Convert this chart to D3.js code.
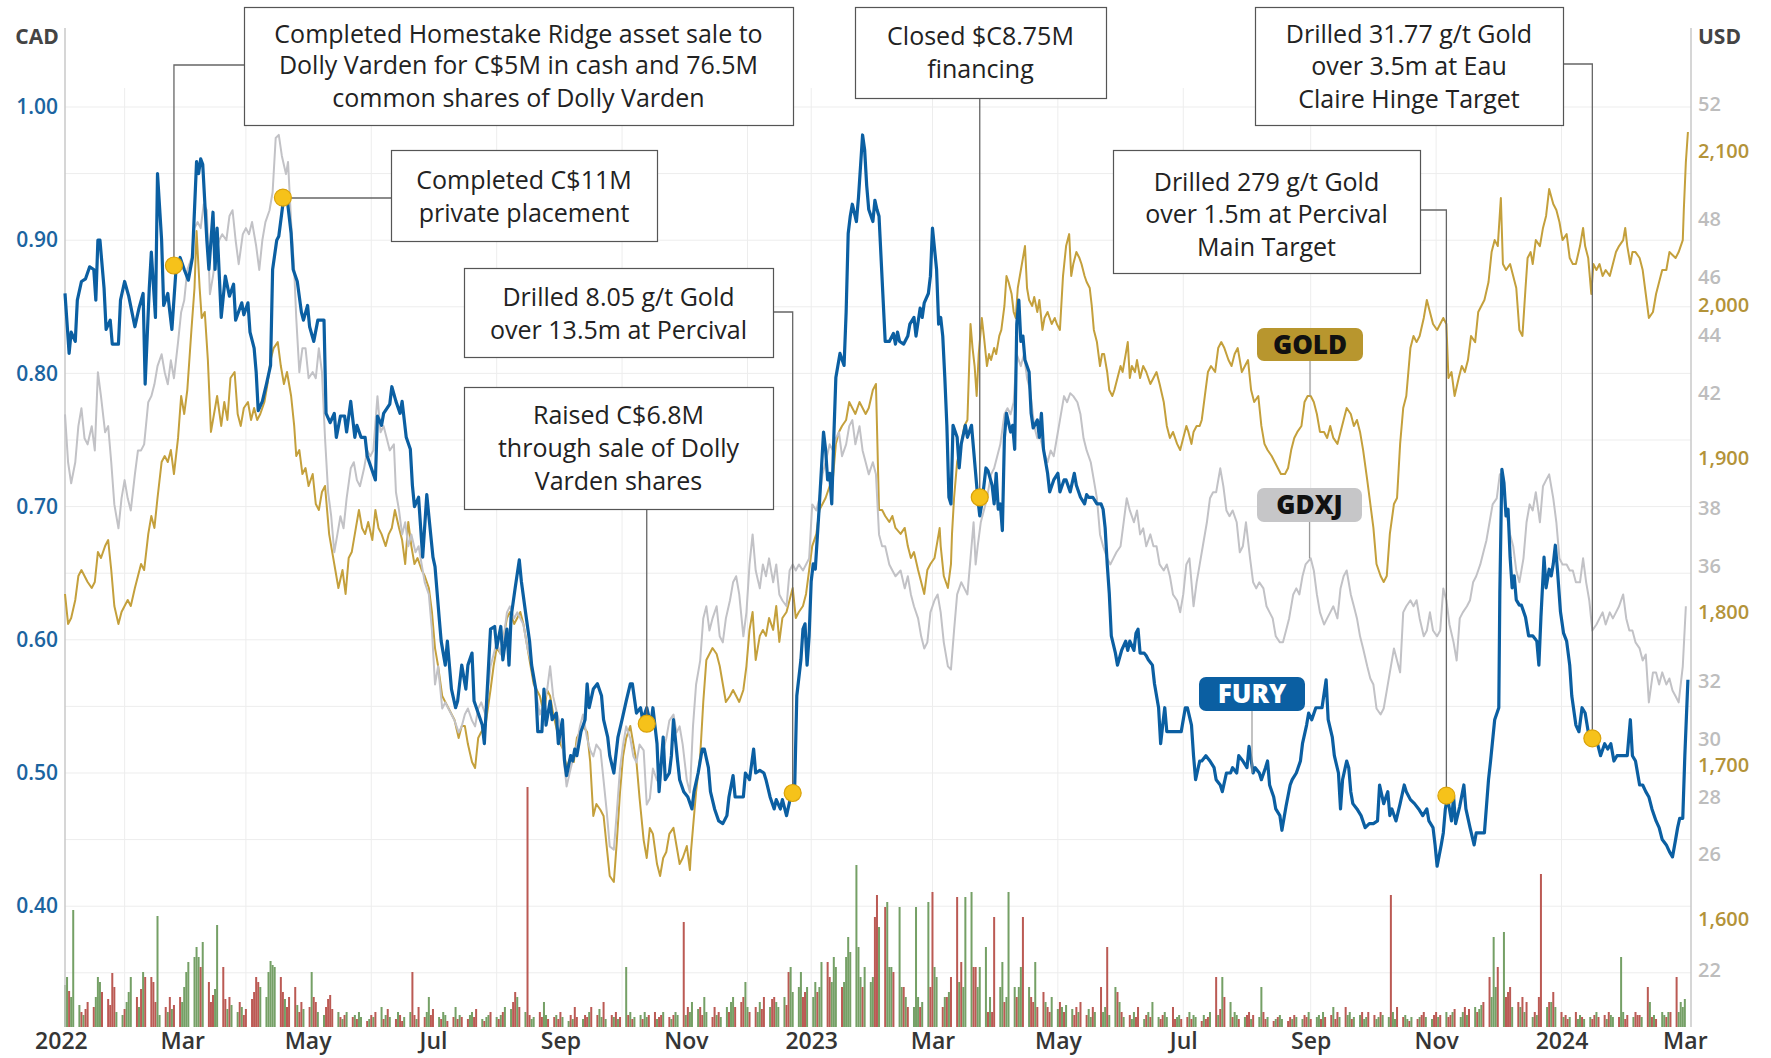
<!DOCTYPE html>
<html><head><meta charset="utf-8">
<script src="https://cdn.jsdelivr.net/npm/d3@7"></script>
<style>
html,body{margin:0;padding:0;background:#fff;}
svg{display:block;font-family:"Open Sans",sans-serif;}
</style></head><body>
<svg id="chart" width="1771" height="1058"></svg>
<script>
// ---------------- DATA (day offset from 2022-01-01, value) ----------------
const fury = [[2,.860],[4,.815],[5,.831],[7,.824],[8,.855],[10,.869],[12,.871],[14,.880],[16,.878],[17,.855],[18,.900],[19,.900],[21,.864],[22,.833],[24,.840],[25,.822],[28,.822],[29,.855],[31,.869],[33,.858],[36,.835],[38,.849],[40,.860],[41,.792],[43,.864],[44,.891],[46,.842],[47,.950],[49,.900],[50,.851],[52,.860],[53,.846],[54,.833],[56,.878],[58,.887],[60,.878],[62,.870],[64,.887],[66,.959],[67,.950],[68,.961],[69,.957],[71,.900],[72,.878],[74,.921],[75,.878],[76,.909],[78,.842],[80,.873],[82,.858],[84,.867],[85,.840],[88,.853],[89,.844],[91,.853],[92,.831],[94,.819],[95,.801],[96,.772],[98,.779],[100,.792],[102,.806],[103,.878],[105,.900],[106,.903],[108,.927],[110,.932],[112,.905],[113,.878],[115,.869],[117,.846],[118,.840],[120,.851],[121,.835],[123,.824],[125,.840],[128,.840],[129,.770],[131,.763],[133,.770],[134,.752],[136,.768],[138,.768],[139,.756],[141,.779],[143,.752],[144,.761],[146,.752],[148,.752],[149,.738],[151,.729],[153,.720],[154,.768],[156,.761],[157,.770],[160,.777],[161,.790],[163,.779],[165,.770],[166,.779],[168,.752],[170,.743],[171,.716],[172,.700],[174,.707],[176,.662],[178,.709],[179,.693],[181,.662],[182,.655],[184,.617],[185,.599],[187,.581],[188,.599],[190,.563],[192,.549],[193,.554],[195,.581],[197,.563],[198,.581],[200,.590],[201,.554],[203,.545],[205,.536],[206,.522],
[209,.608],[211,.610],[212,.594],[214,.610],[215,.585],[217,.608],[218,.581],[219,.617],[221,.639],[223,.660],[224,.644],[226,.621],[228,.599],[229,.581],[231,.563],[232,.531],[234,.531],[235,.563],[236,.536],[238,.554],[239,.540],[241,.545],[242,.522],[244,.540],[245,.509],[246,.498],[248,.513],[249,.509],[250,.518],[251,.513],[253,.531],[255,.540],[256,.567],[257,.549],[259,.563],[261,.567],[263,.558],[264,.540],[266,.527],[267,.513],[269,.500],[271,.527],[273,.540],[275,.554],[277,.567],[278,.567],[280,.545],[282,.549],[283,.540],[285,.549],[287,.536],[288,.549],[290,.522],[291,.486],[293,.527],[294,.495],[296,.500],[297,.513],[298,.540],[300,.509],[301,.495],[303,.486],[305,.482],[307,.473],[308,.486],[310,.500],[312,.518],[313,.518],[315,.504],[316,.486],[318,.473],[320,.464],[322,.462],[324,.468],[325,.482],[327,.498],[328,.482],[330,.482],[332,.482],[333,.500],[335,.495],[337,.518],[338,.500],[340,.502],[342,.500],[343,.495],[345,.482],[347,.473],[348,.480],[350,.473],[351,.480],[353,.468],[355,.482],[357,.491],[358,.558],[360,.585],[361,.608],[362,.612],[363,.581],[364,.603],[365,.644],[366,.657],[367,.653],[369,.702],[371,.756],[372,.743],[373,.720],[374,.725],[375,.702],[376,.752],[377,.797],[379,.815],[381,.806],[382,.846],[383,.905],[384,.918],[385,.927],[387,.914],[388,.932],[390,.979],[391,.968],[392,.941],[393,.923],[395,.914],[396,.930],[397,.923],[398,.918],[400,.855],[401,.824],[403,.824],[405,.830],
[406,.822],[407,.831],[408,.824],[410,.822],[412,.828],[413,.837],[415,.842],[416,.828],[418,.849],[419,.842],[420,.853],[422,.860],[423,.873],[424,.909],[426,.878],[427,.837],[428,.842],[429,.828],[430,.797],[431,.761],[432,.707],[433,.702],[434,.761],[436,.752],[437,.729],[438,.747],[440,.761],[441,.752],[443,.761],[444,.743],[445,.725],[446,.707],[447,.693],[448,.702],[450,.729],[451,.727],[453,.716],[454,.702],[455,.725],[456,.698],[457,.702],[458,.682],[459,.752],[460,.770],[462,.756],[463,.761],[464,.743],[465,.837],[466,.855],[467,.824],[468,.828],[469,.810],[471,.801],[472,.770],[473,.759],[475,.765],[476,.752],[477,.770],[478,.743],[480,.725],[481,.711],[483,.720],[485,.725],[486,.711],[488,.720],[489,.720],[491,.711],[493,.725],[494,.716],[496,.707],[498,.702],[499,.709],[500,.707],[502,.707],[504,.702],[506,.702],[507,.698],[508,.684],[509,.657],[510,.635],[511,.603],[513,.590],[514,.581],[516,.592],[518,.599],[519,.592],[520,.599],[522,.592],[523,.605],[524,.608],[525,.590],[527,.590],[528,.588],[529,.585],[531,.581],[532,.567],[534,.549],[535,.522],[536,.536],[537,.549],[538,.531],[540,.531],[543,.531],[545,.531],[547,.549],[548,.549],[550,.536],[551,.513],[552,.495],[554,.509],[555,.509],[557,.513],[559,.509],[561,.504],[562,.495],[564,.491],[565,.486],[567,.500],[569,.500],[570,.504],[572,.500],[573,.513],[575,.509],[577,.504],[578,.520],[580,.500],[581,.504],[583,.500],[584,.495],[586,.504],[587,.509],[588,.491],[590,.482],[591,.473],[593,.468],[594,.457],[596,.475],[598,.491],[599,.495],[601,.500],[603,.509],[604,.522],[606,.536],[607,.545],
[608.5,.540],[610.5,.549],[611.5,.549],[613.5,.549],[615.5,.570],[616.5,.540],[618.5,.527],[619.5,.513],[621.5,.500],[622.5,.473],[623.5,.495],[625.5,.509],[626.5,.504],[627.5,.486],[628.5,.477],[630.5,.473],[632.5,.468],[634.5,.459],[636.5,.462],[638.5,.462],[640.5,.464],[641.5,.491],[643.5,.477],[645.5,.486],[646.5,.468],[647.5,.473],[649.5,.464],[651.5,.477],[653.5,.491],[654.5,.486],[656.5,.480],[658.5,.477],[660.5,.473],[662.5,.468],[664.5,.473],[665.5,.464],[667.5,.459],[668.5,.446],[669.5,.430],[671.5,.446],[672.5,.455],[673.5,.473],[674.5,.482],[676.5,.464],[677.5,.482],[678.5,.462],[680.5,.475],[682.5,.491],[683.5,.473],[685.5,.459],[687.5,.446],[688.5,.455],[690.5,.455],[692.5,.455],[694.5,.495],[695.5,.509],[697.5,.540],[699.5,.549],[700,.635],[701,.728],[702,.718],[703,.693],[704,.698],[705,.662],[706,.639],[707,.648],[708,.630],[709.5,.626],[710.5,.626],[712.5,.617],[714,.603],[716,.603],[718,.599],[719,.581],[720,.617],[721.5,.662],[722.5,.639],[724,.653],[725,.648],[726,.657],[727,.671],[728,.653],[729.5,.621],[731,.605],[732.5,.599],[734,.581],[735,.558],[737,.536],[738.5,.531],[740,.549],[741.5,.545],[743,.531],[744.5,.529],[746,.527],[747.5,.522],[749,.513],[751,.522],[752.5,.518],[754,.522],[755.5,.509],[757,.513],[760.5,.513],[762,.513],[763.5,.540],[764.5,.513],[766,.509],[768,.491],[769.5,.491],[771,.486],[772.5,.482],[774,.473],[776,.464],[777.5,.459],[779,.450],[781,.446],[782.5,.441],[784,.437],[785.5,.450],[786.5,.459],[787.5,.466],[789,.466],[790,.513],[791.5,.570]];

const gdxj = [[2,41.25],[3.5,39.59],[5,38.86],[7,39.59],[8.5,40.84],[10,41.46],[11.5,40.42],[13,40.21],[15,40.84],[16.5,40.0],[18,42.71],[19.5,41.88],[21.5,40.63],[23,40.84],[24.5,39.59],[26,38.13],[28,37.30],[29.5,38.34],[31,38.97],[32.5,38.34],[34,37.92],[36,39.17],[37.5,40.0],[39,40.0],[40.5,40.21],[42.5,41.67],[44,41.88],[45.5,42.29],[47,42.92],[49,43.33],[50.5,42.71],[52,42.29],[53.5,43.12],[55,42.50],[57,43.75],[58.5,44.79],[60,45.20],[61.5,46.25],[63.5,46.66],[65,47.70],[66.5,47.91],[68,47.70],[69.5,48.53],[71,48.32],[72.5,45.41],[74,46.04],[75.5,46.87],[77,47.28],[78.5,47.49],[80.5,47.28],[82,48.12],[83.5,48.32],[85,47.28],[86.5,46.45],[88.5,47.49],[90,47.70],[91.5,47.49],[93,47.91],[95,47.08],[96.5,46.25],[98,47.28],[99.5,47.91],[101.5,48.32],[103,48.95],[104.5,50.82],[106,50.93],[107.5,50.20],[109.5,49.57],[110.5,49.99],[112,47.91],[113.5,46.25],[114.5,44.58],[116,42.71],[117.5,43.54],[119,43.54],[120.5,42.50],[122.5,42.71],[124,42.50],[125.5,43.54],[127,42.71],[128.5,40.42],[130,38.55],[131.5,37.72],[133,36.47],[134.5,37.09],[136,37.72],[137.5,37.30],[139,38.34],[141,39.38],[142.5,39.59],[144,38.97],[145.5,38.76],[147.5,39.38],[149,40.0],[150.5,39.80],[152,40.0],[154,41.88],[155.5,40.63],[157,40.84],[158.5,40.42],[160,40.0],[162,40.21],[163,38.55],[164.5,37.92],[166,37.09],[167.5,37.51],[169,36.68],[170.5,37.09],[172.5,36.47],[174,36.68],[175.5,36.05],[177,35.43],[179,35.01],[180.5,33.76],[182,31.89],[183.5,32.52],[185.5,31.06],[187,31.27],[188.5,31.06],[190,30.85],[191.5,30.64],[193.5,30.23],[195,30.44],[196.5,30.85],[198,31.06],[200,30.64],[201.5,30.44],[203,31.06],[204.5,31.27],[206.5,30.85],
[209,32.52],[210.5,32.93],[212,33.35],[214,32.93],[215.5,33.56],[217,34.39],[218.5,34.60],[220.5,34.18],[222,34.39],[223.5,34.18],[225,33.97],[227,33.14],[228.5,32.72],[230,32.10],[231.5,31.47],[233,30.85],[235,31.27],[236.5,31.68],[238,32.52],[239.5,31.47],[241.5,30.85],[243,30.44],[244.5,29.40],[246,28.36],[248,28.98],[249.5,29.40],[251,29.81],[252.5,30.44],[254,30.85],[256,30.02],[257.5,29.61],[259,29.40],[260.5,29.81],[262.5,29.61],[264,28.57],[265.5,27.52],[267,26.28],[269,26.17],[270.5,27.52],[272,28.98],[273.5,29.81],[275,30.44],[277,30.02],[278.5,29.40],[280,29.19],[281.5,29.81],[283.5,29.61],[285,27.73],[286.5,27.94],[288,28.98],[290,28.57],[291.5,28.98],[293,29.61],[294.5,30.02],[296,30.64],[298,30.85],[299.5,30.23],[301,30.44],[302.5,29.81],[304.5,28.57],[306,28.15],[307.5,30.44],[309,31.89],[311,32.72],[312.5,34.18],[314,34.60],[315.5,33.76],[317,34.18],[319,34.60],[320.5,33.56],[322,33.35],[323.5,34.18],[325.5,34.81],[327,35.43],[328.5,35.64],[330,35.01],[332,33.56],[333.5,34.39],[335,36.05],[336.5,37.09],[338,35.84],[340,35.22],[341.5,36.05],[343,35.64],[344.5,36.26],[346.5,35.43],[348,36.05],[349.5,35.01],[351,34.80],[353,34.60],[354.5,35.84],[356,36.05],[357.5,35.84],[359,36.05],[361,35.84],[362.5,36.05],[364,36.26],[365.5,38.13],[367.5,37.92],[369,38.34],[370.5,39.17],[372,39.59],[374,40.21],[375.5,40.0],[377,40.42],[378.5,40.63],[380,39.80],[382,40.21],[383.5,40.84],[385,41.05],[386.5,40.21],[388.5,40.84],[390,40.0],[391.5,39.59],[393,39.17],[395,39.59],[396.5,39.17],[398,37.09],[399.5,36.68],[401,36.68],[403,36.05],[404.5,35.84],[406,35.64],
[408.5,35.84],[410.5,35.22],[412,35.64],[413.5,35.01],[415,34.60],[417,34.18],[418.5,33.56],[420,33.14],[421.5,33.35],[423,34.39],[425,34.81],[426.5,35.01],[428,34.39],[429.5,33.35],[431.5,32.52],[433,32.41],[434.5,33.76],[436,35.01],[438,35.43],[439.5,35.22],[441,35.01],[442.5,36.26],[444,37.51],[445,36.05],[446,36.68],[447.5,37.51],[449,37.92],[450.5,38.34],[452.5,39.17],[454,39.38],[455.5,39.80],[457,40.21],[459,41.25],[460.5,41.46],[462,41.25],[463.5,41.67],[465,43.33],[467,42.92],[468.5,43.33],[470,42.50],[471.5,42.08],[473.5,40.84],[475,40.42],[476.5,40.42],[478,40.0],[480,39.59],[481.5,40.0],[483,39.80],[484.5,40.42],[486,41.05],[488,41.88],[489.5,41.67],[491,41.98],[492.5,41.88],[494.5,41.67],[496,41.25],[497.5,40.42],[499,40.0],[501,39.59],[502.5,38.97],[504,38.34],[505.5,37.09],[507,36.68],[509,36.26],[510.5,36.05],[512,36.26],[513.5,36.47],[515.5,36.68],[517,37.51],[518.5,38.34],[520,37.92],[522,37.51],[523.5,37.92],[525,37.09],[526.5,37.30],[528,36.68],[530,37.09],[531.5,36.68],[533,36.68],[534.5,36.05],[536.5,35.84],[538,36.05],[539.5,35.64],[541,35.01],[543,34.80],[544.5,34.39],[546,35.01],[547.5,36.05],[549,36.26],[551,34.60],[552.5,35.43],[554,36.05],[555.5,36.68],[557.5,37.51],[559,38.34],[560.5,38.55],[562,38.55],[564,39.38],[565.5,38.76],[567,37.92],[568.5,37.72],[570,37.92],[572,37.51],[573.5,36.47],[575,36.68],[576.5,37.51],[578.5,36.26],[580,35.43],[581.5,35.22],[583,35.43],[585,35.22],[586.5,34.60],[588,34.39],[589.5,34.18],[591,33.56],[593,33.35],[594.5,33.35],[596,33.76],[597.5,34.18],[599.5,35.01],[601,35.22],[602.5,35.01],[604,35.64],[605.5,36.05],
[608,36.26],[609.5,35.84],[611,35.01],[612.5,34.39],[614.5,33.97],[616,34.18],[617.5,34.39],[619,34.60],[621,34.18],[622.5,35.22],[624,35.64],[625.5,35.84],[627.5,35.01],[629,34.60],[630.5,34.18],[632,33.56],[633.5,33.14],[635.5,32.52],[637,32.10],[638.5,31.89],[640,31.06],[642,30.85],[643.5,31.06],[645,31.68],[646.5,32.31],[648.5,33.14],[650,32.72],[651.5,32.31],[653,34.39],[654.5,34.60],[656.5,34.81],[658,34.60],[659.5,34.81],[661,34.18],[663,33.56],[664.5,33.76],[666,34.39],[667.5,33.76],[669.5,33.56],[671,33.76],[672.5,35.22],[674,34.81],[675.5,33.97],[677.5,33.35],[679,32.72],[680.5,34.18],[682,34.39],[684,34.60],[685.5,34.81],[687,35.43],[688.5,35.64],[690.5,36.05],[692,36.47],[693.5,36.89],[695,37.51],[696.5,38.13],[698.5,38.34],[700,39.17],[701.5,39.17],[703,37.92],[705,37.09],[706.5,36.68],[708,35.84],[709.5,35.43],[711.5,36.26],[713,37.51],[714.5,38.13],[716,37.92],[717.5,38.55],[719.5,37.51],[721,38.76],[722.5,38.97],[724,39.17],[726,38.34],[727.5,37.51],[729,36.26],[730.5,36.05],[732.5,36.05],[734,35.84],[735.5,35.84],[737,35.43],[739,35.43],[740.5,36.26],[742,35.43],[743.5,34.81],[745,33.76],[747,33.97],[748.5,34.18],[750,34.39],[751.5,33.97],[753.5,34.39],[755,34.18],[756.5,34.39],[758,34.60],[760,35.01],[761.5,34.18],[763,33.76],[764.5,33.76],[766,33.35],[768,33.14],[769.5,32.72],[771,32.93],[772.5,31.27],[774.5,32.31],[776,32.31],[777.5,31.89],[779,32.31],[781,31.89],[782.5,32.10],[784,31.68],[785.5,31.48],[787,31.27],[789,32.52],[790.5,34.60]];

const gold = [[2,1811.6],[3.5,1792.1],[5,1796.0],[7,1807.7],[8.5,1823.3],[10,1827.2],[11.5,1823.3],[13,1819.4],[15,1815.5],[16.5,1819.4],[18,1838.9],[19.5,1835.0],[21.5,1842.8],[23,1846.7],[24.5,1827.2],[26,1803.8],[28,1792.1],[29.5,1799.9],[31,1803.8],[32.5,1807.7],[34,1803.8],[36,1815.5],[37.5,1823.3],[39,1831.1],[40.5,1827.2],[42.5,1850.6],[44,1862.4],[45.5,1854.6],[47,1874.1],[49,1897.5],[50.5,1901.4],[52,1897.5],[53.5,1905.3],[55,1889.7],[57,1913.2],[58.5,1940.5],[60,1928.8],[61.5,1944.4],[63.5,1983.5],[65,2010.8],[66,2047.9],[67.5,2010.8],[68.5,1991.3],[70,1995.2],[71.5,1963.9],[73,1917.1],[74.5,1928.8],[76,1940.5],[78,1921.0],[79.5,1936.6],[81,1924.9],[82.5,1952.2],[84.5,1956.1],[86,1928.8],[87.5,1921.0],[89,1932.7],[91,1936.6],[92.5,1924.9],[94,1932.7],[95.5,1924.9],[97,1928.8],[99,1936.6],[100.5,1948.3],[102,1963.9],[103.5,1971.7],[105.5,1975.6],[107,1960.0],[108.5,1948.3],[110,1956.1],[112,1940.5],[113.5,1921.0],[114.5,1901.4],[116,1905.3],[117.5,1889.7],[119,1893.6],[120.5,1881.9],[122.5,1889.7],[124,1870.2],[125.5,1866.3],[127,1878.0],[128.5,1881.9],[130.5,1850.6],[132,1838.9],[133.5,1827.2],[135,1815.5],[137,1827.2],[138.5,1811.6],[140,1835.0],[141.5,1838.9],[143.5,1854.6],[145,1866.3],[146.5,1854.6],[148,1850.6],[149.5,1858.5],[151.5,1846.7],[153,1866.3],[154.5,1854.6],[156,1850.6],[158,1842.8],[159.5,1850.6],[161,1854.6],[162.5,1866.3],[164.5,1854.6],[166,1846.7],[167.5,1831.1],[169,1858.5],[170.5,1842.8],[172,1831.1],[173.5,1835.0],[175.5,1827.2],[177,1823.3],[179,1815.5],[180.5,1799.9],[182,1776.4],[183.5,1764.7],[185.5,1745.2],[187,1741.3],[188.5,1737.4],[190,1733.5],[191.5,1729.6],[193.5,1717.8],[195,1725.7],[196.5,1725.7],[198,1713.9],[200,1702.2],[201.5,1698.3],[203,1717.8],[204.5,1721.7],[206.5,1725.7],
[209,1749.1],[210.5,1764.7],[212,1776.4],[214,1772.5],[215.5,1784.3],[217,1796.0],[218.5,1799.9],[220.5,1792.1],[222,1796.0],[223.5,1799.9],[225,1792.1],[227,1776.4],[228.5,1764.7],[230,1753.0],[231.5,1749.1],[233,1745.2],[235,1733.5],[236.5,1749.1],[238,1745.2],[239.5,1733.5],[241.5,1721.7],[243,1713.9],[244.5,1710.0],[246,1698.3],[248,1706.1],[249.5,1702.2],[251,1717.8],[252.5,1721.7],[254,1725.7],[256,1721.7],[257.5,1702.2],[259,1667.1],[260.5,1674.9],[262.5,1671.0],[264,1667.1],[265.5,1647.5],[267,1628.0],[269,1624.1],[270.5,1651.4],[272,1682.7],[273.5,1706.1],[275,1717.8],[277,1725.7],[278.5,1713.9],[280,1702.2],[281.5,1678.8],[283.5,1651.4],[285,1639.7],[286.5,1659.3],[288,1655.4],[290,1635.8],[291.5,1628.0],[293,1639.7],[294.5,1643.6],[296,1655.4],[298,1659.3],[299.5,1647.5],[301,1635.8],[302.5,1639.7],[304.5,1647.5],[306,1631.9],[306.5,1643.6],[307.5,1659.3],[309,1682.7],[311,1706.1],[312.5,1741.3],[314,1768.6],[315.5,1772.5],[317,1776.4],[319,1772.5],[320.5,1764.7],[322,1753.0],[323.5,1741.3],[325.5,1745.2],[327,1749.1],[328.5,1745.2],[330,1741.3],[332,1749.1],[333.5,1764.7],[335,1788.2],[336.5,1799.9],[338,1768.6],[340,1784.3],[341.5,1788.2],[343,1784.3],[344.5,1796.0],[346.5,1788.2],[348,1803.8],[349.5,1780.4],[351,1796.0],[353,1799.9],[354.5,1807.7],[356,1815.5],[357.5,1796.0],[359,1799.9],[361,1803.8],[362.5,1811.6],[364,1827.2],[365.5,1842.8],[367.5,1850.6],[369,1866.3],[370.5,1870.2],[372,1874.1],[374,1881.9],[375.5,1885.8],[377,1909.3],[378.5,1917.1],[380,1921.0],[382,1924.9],[383.5,1936.6],[385,1932.7],[386.5,1928.8],[388.5,1936.6],[390,1932.7],[391.5,1928.8],[393,1932.7],[395,1944.4],[396.5,1948.3],[398,1866.3],[399.5,1866.3],[401,1862.4],[403,1858.5],[404.5,1862.4],[406,1854.6],
[408.5,1850.7],[410.5,1854.6],[412,1842.8],[413.5,1835.0],[415,1838.9],[417,1827.2],[418.5,1819.4],[420,1811.6],[421.5,1827.2],[423,1831.1],[425,1835.0],[426.5,1846.7],[427.5,1854.6],[428,1842.8],[429.5,1823.3],[431.5,1815.5],[433,1831.1],[433.5,1850.7],[434.5,1874.1],[436,1897.5],[438,1909.3],[439.5,1921.0],[441,1924.9],[442.5,1987.4],[443.5,1971.7],[444.5,1960.0],[445.5,1940.5],[446.5,1967.8],[448,1991.3],[449,1979.6],[450.5,1960.0],[451.5,1967.8],[452.5,1963.9],[454,1971.7],[455,1967.8],[456.5,1979.6],[457.5,1983.5],[459,1999.1],[460,2018.6],[461,2014.7],[462.5,2006.9],[463.5,1995.2],[464.5,1991.3],[465.5,2010.8],[467,2022.5],[468,2030.3],[469,2038.1],[470,2010.8],[471,2003.0],[472.5,1999.1],[473.5,2005.0],[475,1995.2],[476,2003.0],[477.5,1983.5],[478.5,1991.3],[480,1995.2],[481,1991.3],[482,1987.4],[483.5,1991.3],[484.5,1987.4],[486,1983.5],[487.5,2018.6],[489,2038.1],[490.5,2045.9],[491.5,2018.6],[492.5,2026.4],[494,2034.2],[495.5,2030.3],[496.5,2026.4],[498,2018.6],[499,2014.7],[500.5,2010.8],[501.5,1999.1],[502.5,1983.5],[504,1975.6],[505.5,1960.0],[506.5,1967.8],[507.5,1967.8],[509,1956.1],[510,1944.4],[511.5,1940.5],[512.5,1944.4],[514,1952.2],[515.5,1960.0],[516.5,1956.1],[518,1967.8],[519,1975.6],[520,1952.2],[521,1960.0],[522.5,1956.1],[523.5,1963.9],[525,1952.2],[526.5,1960.0],[528,1956.1],[530,1948.3],[531.5,1952.2],[533,1956.1],[534.5,1948.3],[536.5,1936.6],[538,1921.0],[539.5,1913.2],[541,1917.1],[543,1909.3],[544.5,1905.3],[546,1913.2],[547.5,1921.0],[548.5,1917.1],[550,1909.3],[551,1917.1],[552.5,1921.0],[554,1921.0],[555,1924.9],[556.5,1940.5],[558,1956.1],[559.5,1960.0],[561.5,1956.1],[563,1971.7],[564.5,1975.6],[566,1971.7],[568,1963.9],[569.5,1960.0],[571,1967.8],[572.5,1971.7],[574.5,1956.1],[576,1960.0],[577.5,1963.9],[579,1944.4],[580.5,1936.6],[582.5,1940.5],[584,1921.0],[585.5,1909.3],[587,1905.3],[589,1901.4],[590.5,1897.5],[592,1893.6],[593.5,1889.7],[595.5,1889.7],[597,1893.6],[598.5,1905.3],[600,1913.2],[601.5,1917.1],[603.5,1921.0],[605,1936.6],[606.5,1940.5],
[608,1940.5],[609.5,1936.6],[611,1928.8],[612.5,1917.1],[614.5,1917.1],[616,1913.2],[617.5,1921.0],[619,1913.2],[621,1909.3],[622.5,1917.1],[624,1924.9],[625.5,1932.7],[627.5,1928.8],[629,1921.0],[630.5,1924.9],[632,1917.1],[633.5,1905.3],[635.5,1885.8],[637,1870.2],[638.5,1854.6],[640,1831.1],[642,1823.3],[643.5,1819.4],[645,1823.3],[646.5,1850.7],[648.5,1870.2],[650,1874.1],[651.5,1909.3],[653,1932.7],[654.5,1940.5],[656.5,1971.7],[658,1979.6],[659.5,1975.6],[661,1979.6],[663,1991.3],[664.5,2003.0],[666,1995.2],[667.5,1987.4],[669.5,1983.5],[671,1987.4],[672.5,1991.3],[674,1987.4],[675,1952.2],[676.5,1956.1],[678,1940.5],[680,1952.2],[681.5,1960.0],[683,1956.1],[684.5,1963.9],[686,1979.6],[688,1975.6],[689.5,1995.2],[691,1999.1],[692.5,2003.0],[694.5,2014.7],[696,2034.2],[697.5,2042.0],[699,2038.1],[700.5,2069.4],[701.5,2026.4],[703,2022.5],[705,2026.4],[706.5,2018.6],[708,2010.8],[709.5,1983.5],[711,1979.6],[712.5,2010.8],[713.5,2030.3],[715,2034.2],[716,2026.4],[717.5,2042.0],[719.5,2038.1],[721,2049.9],[722.5,2057.7],[724,2075.2],[726,2065.5],[727.5,2061.6],[729,2053.8],[730.5,2042.0],[732.5,2045.9],[734,2030.3],[735.5,2026.4],[737,2026.4],[739,2038.1],[740.5,2049.9],[741.5,2038.1],[743,2030.3],[744.5,2006.9],[745.5,2026.4],[747,2022.5],[748.5,2026.4],[750,2018.6],[751.5,2022.5],[753.5,2018.6],[755,2026.4],[756.5,2034.2],[758,2038.1],[760,2042.0],[761,2049.9],[762,2038.1],[763.5,2026.4],[764.5,2034.2],[766,2034.2],[768,2030.3],[769.5,2022.5],[771,2006.9],[772.5,1991.3],[774.5,1995.2],[776,2006.9],[777.5,2014.7],[779,2022.5],[781,2022.5],[782.5,2034.2],[784,2032.3],[785.5,2030.3],[787,2034.2],[789,2042.0],[789.5,2061.6],[790.5,2092.8],[791.5,2112.4]];

// daily FURY volume (one value per weekday from 2022-01-03, arbitrary units)
const volume = [42,50,36,30,117,22,15,12,18,25, 20,30,50,45,35,28,22,54,40,15, 12,18,25,35,50,30,20,38,55,50, 50,45,25,111,12,20,15,30,18,22, 30,25,40,55,65,70,80,70,60,85,
45,25,32,38,102,60,28,18,30,22, 15,25,20,12,18,28,35,50,45,40, 30,55,66,62,60,50,35,28,20,30, 40,22,15,25,18,20,55,30,25,15, 12,20,28,32,18,15,10,8,12,15,
10,12,8,15,10,6,8,12,10,15, 20,8,12,18,10,8,15,12,6,10, 15,55,12,8,20,10,15,30,12,18, 10,8,15,12,6,10,20,8,12,10, 8,12,15,10,18,8,6,10,12,15,
10,8,12,15,20,18,25,35,30,20, 15,240,12,8,10,15,10,25,12,8, 10,12,8,15,10,6,12,8,20,10, 8,12,10,15,20,12,18,10,25,8, 12,10,15,8,10,60,12,15,8,10,
12,8,15,10,12,15,8,10,12,15, 10,8,12,15,12,105,12,20,15,25, 18,20,12,30,15,10,20,12,15,10, 20,15,25,30,20,25,30,45,20,15, 20,15,25,18,30,20,28,30,25,20,
30,22,55,60,35,40,55,30,35,40, 30,45,35,40,65,65,50,45,70,60, 40,45,70,90,75,162,80,50,40,60, 45,50,110,132,100,120,125,60,60,55, 120,40,40,30,20,20,120,30,20,25,
125,40,135,60,50,20,30,30,35,50, 130,45,65,40,130,135,60,60,40,60, 80,15,30,15,110,40,65,25,30,135, 40,30,40,60,110,40,30,25,65,20, 35,25,20,15,30,18,25,20,15,22,
18,12,20,15,25,12,18,10,20,15, 40,15,20,80,12,40,35,25,15,10, 12,8,15,10,20,8,12,15,10,25, 10,8,12,15,10,20,8,10,12,8, 10,15,8,12,10,6,12,8,10,15,
50,12,18,50,30,25,10,15,12,8, 10,12,15,8,12,10,40,15,8,10, 6,8,10,12,8,6,10,8,12,10, 8,12,10,15,8,10,12,8,15,10, 12,20,8,15,10,20,12,15,8,10,
12,15,8,10,15,12,8,10,15,12, 10,132,15,8,20,10,12,8,6,10, 8,10,12,15,10,8,12,15,10,12, 15,10,12,15,18,10,15,20,12,18, 20,15,18,22,25,50,30,90,40,60,
95,30,35,40,20,25,20,30,15,25, 10,15,12,30,153,20,25,25,35,20, 15,10,12,8,10,15,8,12,10,8, 10,8,12,15,10,12,8,15,12,10, 10,70,15,8,12,10,15,12,12,10,
40,25,10,12,8,15,12,10,15,15, 50,15,25,20,28];
// u = up day (green), d = down day (red)
const volumeDir = ("uuduuududd" + "duuudddddu" + "uduuududud" + "ddduududud" + "duuuuuuudu" +
 "ddduuddudu" + "ududdddddu" + "uuuuuddudd" + "duddududdu" + "uddddududu" +
 "duduududud" + "ududududdu" + "uddudduudd" + "uduuddudud" + "duudduduud" +
 "ududuuddud" + "udduudduud" + "dudduududd" + "uddudduudu" + "dududududu" +
 "uduudduddu" + "duduududuu" + "udduuddudu" + "uduuddduud" + "duuddudduu" +
 "udduuuuddu" + "uuduudduuu" + "duuuuuuudu" + "uudduduuud" + "uududuuudu" +
 "udduududud" + "duduuudduu" + "ududduuduu" + "uduududdud" + "dudduududu" +
 "uddudduudu" + "duuduududu" + "duuddududu" + "udduudduud" + "duduududdu" +
 "dudududuud" + "udduduuddu" + "duduuddudu" + "udduduudud" + "dudduduudu" +
 "uduudduudu" + "uduudduudu" + "dudduuddud" + "udduduudud" + "uduudduuud" +
 "udddududud" + "ududdududu" + "dudduduudu" + "uddudduduu" + "duuddudddu" +
 "dududuudud" + "duuuu").split("");

const cadTicks = [0.40,0.50,0.60,0.70,0.80,0.90,1.00];
const goldTicks = [1600,1700,1800,1900,2000,2100];
const gdxjTicks = [22,26,28,30,32,36,38,42,44,46,48,52];
const xTickDates = ["2022-01-01","2022-03-01","2022-05-01","2022-07-01","2022-09-01","2022-11-01","2023-01-01","2023-03-01","2023-05-01","2023-07-01","2023-09-01","2023-11-01","2024-01-01","2024-03-01"];
const xTickLabels = ["2022","Mar","May","Jul","Sep","Nov","2023","Mar","May","Jul","Sep","Nov","2024","Mar"];
const gridDates = ["2022-02-01","2022-04-01","2022-06-01","2022-08-01","2022-10-01","2022-12-01","2023-01-01","2023-03-01","2023-05-01","2023-07-01","2023-09-01","2023-11-01","2024-01-01"];

const eventDates = ["2022-02-25","2022-04-19","2022-10-13","2022-12-23","2023-03-24","2023-11-06","2024-01-16"];
const eventCad = [0.881,0.932,0.537,0.485,0.707,0.483,0.526];
const eventText = [
 ["Completed Homestake Ridge asset sale to","Dolly Varden for C$5M in cash and 76.5M","common shares of Dolly Varden"],
 ["Completed C$11M","private placement"],
 ["Raised C$6.8M","through sale of Dolly","Varden shares"],
 ["Drilled 8.05 g/t Gold","over 13.5m at Percival"],
 ["Closed $C8.75M","financing"],
 ["Drilled 279 g/t Gold","over 1.5m at Percival","Main Target"],
 ["Drilled 31.77 g/t Gold","over 3.5m at Eau","Claire Hinge Target"]
];

// ---------------- LAYOUT ----------------
const svg = d3.select("#chart");
const parse = d3.utcParse("%Y-%m-%d");
const BASE = Date.UTC(2022,0,1);
const dayDate = d => new Date(BASE + d*864e5);
const L = 65, R = 1691, TOP = 28, BOT = 1027;

const x = d3.scaleUtc().domain([parse("2022-01-03"), parse("2024-03-04")]).range([L, R]);
const yCad = d3.scaleLinear().domain([0.40, 1.00]).range([906.2, 107]);
const yGdxj = d3.scaleLinear().domain([22, 52]).range([970, 104]);
const yGold = d3.scaleLinear().domain([1600, 2100]).range([919, 151]);
const yVol = d3.scaleLinear().domain([0, 240]).range([BOT, 787]);

const C = {fury:"#0b5fa2", gold:"#c4a03c", gdxj:"#c2c2c6", up:"#75a066", down:"#bb5a54",
  grid:"#ededed", axis:"#c8c8c8", dot:"#f6c21a", dotStroke:"#d9a20b", box:"#555", text:"#222"};

// grid
const grid = svg.append("g");
grid.selectAll("line.h").data(d3.range(0.35, 1.0001, 0.05)).join("line")
  .attr("x1", L).attr("x2", R).attr("y1", d => yCad(d)).attr("y2", d => yCad(d))
  .attr("stroke", C.grid).attr("stroke-width", 1);
grid.selectAll("line.v").data(gridDates.map(parse)).join("line")
  .attr("x1", d => x(d)).attr("x2", d => x(d)).attr("y1", 88).attr("y2", BOT)
  .attr("stroke", C.grid).attr("stroke-width", 1);

// volume bars
const tradeDays = [];
for (let t = Date.UTC(2022,0,3); tradeDays.length < volume.length; t += 864e5) {
  const wd = new Date(t).getUTCDay();
  if (wd !== 0 && wd !== 6) tradeDays.push(new Date(t));
}
svg.append("g").selectAll("rect").data(volume).join("rect")
  .attr("x", (v,i) => x(tradeDays[i]) - 1).attr("width", 2)
  .attr("y", v => yVol(v)).attr("height", v => BOT - yVol(v))
  .attr("fill", (v,i) => volumeDir[i] === "d" ? C.down : C.up);

// axis lines
svg.append("line").attr("x1", L).attr("x2", L).attr("y1", TOP).attr("y2", BOT).attr("stroke", C.axis).attr("stroke-width", 1.5);
svg.append("line").attr("x1", R).attr("x2", R).attr("y1", TOP).attr("y2", BOT).attr("stroke", C.axis).attr("stroke-width", 1.5);

// series lines
const mk = y => d3.line().x(d => x(dayDate(d[0]))).y(d => y(d[1])).curve(d3.curveLinear);
svg.append("path").datum(gold).attr("d", mk(yGold)).attr("fill","none").attr("stroke", C.gold).attr("stroke-width", 2).attr("stroke-linejoin","round");
svg.append("path").datum(gdxj).attr("d", mk(yGdxj)).attr("fill","none").attr("stroke", C.gdxj).attr("stroke-width", 2).attr("stroke-linejoin","round");
svg.append("path").datum(fury).attr("d", mk(yCad)).attr("fill","none").attr("stroke", C.fury).attr("stroke-width", 3.2).attr("stroke-linejoin","round");

// axes
const styleAxis = (g, color, size, weight) => {
  g.select(".domain").remove();
  g.selectAll(".tick line").remove();
  g.selectAll("text").attr("fill", color).style("font-size", size+"px").style("font-weight", weight).style("font-family", '"Open Sans", sans-serif');
};
svg.append("g").attr("transform", `translate(${L},0)`)
  .call(d3.axisLeft(yCad).tickValues(cadTicks).tickFormat(d3.format(".2f")).tickSize(0).tickPadding(7))
  .call(g => styleAxis(g, "#1b64a0", 21, 600));
svg.append("g").attr("transform", `translate(${R},0)`)
  .call(d3.axisRight(yGold).tickValues(goldTicks).tickFormat(d3.format(",")).tickSize(0).tickPadding(7))
  .call(g => styleAxis(g, "#b39339", 20, 600));
svg.append("g").attr("transform", `translate(${R},0)`)
  .call(d3.axisRight(yGdxj).tickValues(gdxjTicks).tickFormat(d3.format("d")).tickSize(0).tickPadding(7))
  .call(g => styleAxis(g, "#bdbdbd", 20, 600));
const xAxisG = svg.append("g").attr("transform", `translate(0,1028)`)
  .call(d3.axisBottom(x).tickValues(xTickDates.map(parse)).tickFormat((d,i) => xTickLabels[i]).tickSize(0).tickPadding(0))
  .call(g => styleAxis(g, "#353535", 23, 600));
xAxisG.selectAll("text").attr("y", 13).attr("dy", "0.35em");

svg.append("text").attr("x", 58.7).attr("y", 37).attr("dy","0.35em").attr("text-anchor","end")
  .attr("fill","#444").style("font-size","21px").style("font-weight",700).text("CAD");
svg.append("text").attr("x", 1698).attr("y", 37).attr("dy","0.35em").attr("text-anchor","start")
  .attr("fill","#444").style("font-size","21px").style("font-weight",700).text("USD");

// annotation boxes (layout) : order matches eventText
const boxes = [
  {x:244, y:7,   w:549, h:118, ly:[34,65.5,98],    conn:"left",   cy:65},
  {x:391, y:150, w:266, h:91,  ly:[180.7,213.5],   conn:"left",   cy:198},
  {x:464, y:387, w:309, h:122, ly:[415.7,448.4,481], conn:"bottom"},
  {x:464, y:268, w:309, h:89,  ly:[297,330],       conn:"right",  cy:312},
  {x:855, y:7,   w:251, h:91,  ly:[36,69],         conn:"bottom"},
  {x:1113,y:150, w:307, h:123, ly:[182,214.6,247], conn:"right",  cy:210},
  {x:1255,y:7,   w:308, h:118, ly:[34,66.6,99.4],  conn:"right",  cy:64}
];
const conG = svg.append("g");
const dotG = svg.append("g");
const boxG = svg.append("g");
boxes.forEach((b, i) => {
  const dx = x(parse(eventDates[i])), dy = yCad(eventCad[i]);
  let pts;
  if (b.conn === "bottom") pts = [[dx, b.y + b.h], [dx, dy]];
  else if (b.conn === "left") pts = [[b.x, b.cy], [dx, b.cy], [dx, dy]];
  else pts = [[b.x + b.w, b.cy], [dx, b.cy], [dx, dy]];
  conG.append("path").attr("d", d3.line()(pts)).attr("fill","none").attr("stroke","#666").attr("stroke-width",1.3);
  dotG.append("circle").attr("cx", dx).attr("cy", dy).attr("r", 8.5)
    .attr("fill", C.dot).attr("stroke", C.dotStroke).attr("stroke-width", 1.2);
  boxG.append("rect").attr("x", b.x + 0.5).attr("y", b.y + 0.5).attr("width", b.w).attr("height", b.h)
    .attr("fill","#fff").attr("stroke", C.box).attr("stroke-width", 1.2);
  eventText[i].forEach((t, k) => {
    boxG.append("text").attr("x", b.x + b.w/2).attr("y", b.ly[k]).attr("dy","0.35em")
      .attr("text-anchor","middle").attr("fill", C.text).style("font-size","25px").text(t);
  });
});

// series tags
const valueAt = (series, cx) => {
  const d = (x.invert(cx) - BASE) / 864e5;
  const i = d3.bisector(p => p[0]).center(series, d);
  return series[i][1];
};
const tags = [
  {label:"GOLD", series:gold, y:yGold, bx:1257, by:328, w:106, h:33, fill:"#b8962e", color:"#111"},
  {label:"GDXJ", series:gdxj, y:yGdxj, bx:1257, by:488, w:105, h:34, fill:"#c6c6c8", color:"#111"},
  {label:"FURY", series:fury, y:yCad,  bx:1199, by:677, w:106, h:34, fill:"#0b5fa2", color:"#fff"}
];
const tagG = svg.append("g");
tags.forEach(t => {
  const cx = t.bx + t.w/2;
  const ly = t.y(valueAt(t.series, cx));
  tagG.append("line").attr("x1", cx).attr("x2", cx).attr("y1", t.by + t.h).attr("y2", ly)
    .attr("stroke","#9a9a9a").attr("stroke-width",1.2);
  tagG.append("rect").attr("x", t.bx).attr("y", t.by).attr("width", t.w).attr("height", t.h)
    .attr("rx", 7).attr("fill", t.fill);
  tagG.append("text").attr("x", cx).attr("y", t.by + t.h/2).attr("dy","0.36em").attr("text-anchor","middle")
    .attr("fill", t.color).style("font-size","26px").style("font-weight",800).text(t.label);
});
</script></body></html>
